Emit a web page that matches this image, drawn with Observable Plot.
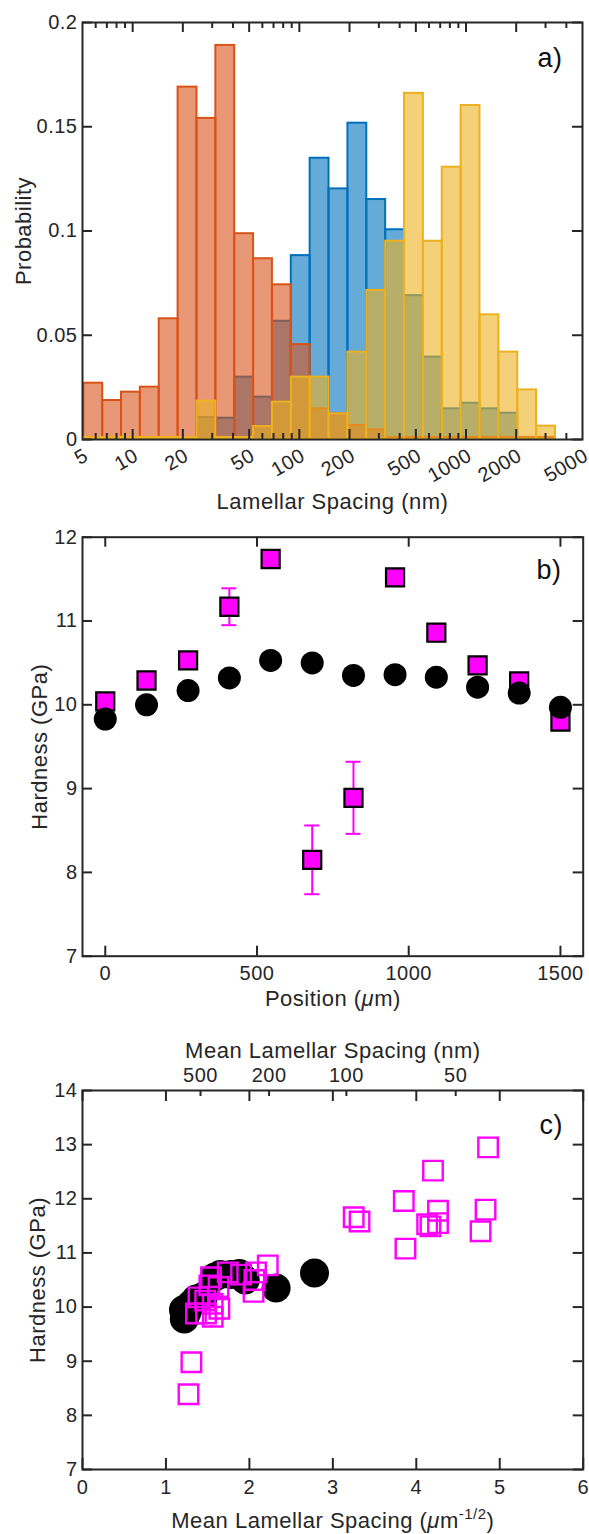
<!DOCTYPE html>
<html><head><meta charset="utf-8">
<script src="https://cdn.jsdelivr.net/npm/d3@7"></script>
<script src="https://cdn.jsdelivr.net/npm/@observablehq/plot@0.6"></script>
<style>
body{margin:0;background:#fff;}
#chart{width:589px;}
#chart svg{display:block;}
</style></head><body><div id="chart"></div>
<script>
// ---------- Panel a: histogram of lamellar spacing ----------
const binEdges = [5.09, 6.61, 8.57, 11.12, 14.43, 18.73, 24.31, 31.55, 40.94, 53.13, 68.96, 89.49, 116.1, 150.7, 195.6, 253.9, 329.5, 427.6, 554.9, 720.2, 934.7, 1213, 1574, 2043, 2652, 3441];
const probOrange = [0.027, 0.0187, 0.0227, 0.0251, 0.0579, 0.169, 0.154, 0.189, 0.0987, 0.0867, 0.0742, 0.0455, 0.0147, 0.0123, 0.0067, 0.0046, 0.001, 0.001, 0.001, 0.001, 0.001, 0.001, 0.001, 0.001, 0.001];
const probBlue   = [0, 0, 0, 0, 0, 0, 0.0105, 0.0102, 0.0299, 0.0203, 0.0567, 0.0882, 0.1349, 0.1202, 0.1517, 0.1151, 0.1006, 0.069, 0.0395, 0.0147, 0.0174, 0.0147, 0.0126, 0, 0];
const probYellow = [0.001, 0.001, 0.001, 0.001, 0.001, 0.001, 0.0184, 0.001, 0.001, 0.0062, 0.0179, 0.0299, 0.0299, 0.0123, 0.0419, 0.0715, 0.0951, 0.166, 0.0951, 0.1306, 0.1602, 0.0598, 0.0419, 0.0238, 0.0064];
const spacingLabels = [5, 10, 20, 50, 100, 200, 500, 1000, 2000, 5000];
const spacingMajor = [10, 20, 50, 100, 200, 500, 1000, 2000];
const spacingMinor = [6, 7, 8, 9, 30, 40, 60, 70, 80, 90, 300, 400, 600, 700, 800, 900, 3000, 4000];
const probTicks = [0, 0.05, 0.1, 0.15, 0.2];

// ---------- Panel b: hardness vs position ----------
const position = [0, 136, 273, 409, 545, 682, 818, 955, 1091, 1227, 1364, 1500];
const hardCircle = [9.83, 10.0, 10.17, 10.32, 10.53, 10.50, 10.35, 10.36, 10.33, 10.21, 10.14, 9.97];
const hardSquare = [10.04, 10.29, 10.53, 11.17, 11.74, 8.15, 8.89, 11.52, 10.86, 10.47, 10.28, 9.80];
const errSquare  = [0.06, 0.1, 0.1, 0.22, 0.08, 0.41, 0.43, 0.08, 0.1, 0.08, 0.06, 0.06];
const posTicks = [0, 500, 1000, 1500];
const hardTicksB = [7, 8, 9, 10, 11, 12];

// ---------- Panel c: hardness vs mean lamellar spacing^-1/2 ----------
const cCircleX = [1.22, 1.25, 1.21, 1.30, 1.36, 1.45, 1.58, 1.65, 1.78, 1.88, 1.95, 2.32, 2.78];
const cCircleH = [9.78, 9.90, 9.95, 10.05, 10.15, 10.2, 10.55, 10.6, 10.6, 10.62, 10.5, 10.35, 10.63];
const cSquareX = [4.86, 4.20, 3.85, 4.83, 4.26, 3.25, 3.32, 4.13, 4.26, 4.17, 4.77, 3.87, 2.22, 2.08, 2.06, 2.05, 1.74, 1.90, 1.54, 1.52, 1.63, 1.47, 1.56, 1.64, 1.48, 1.36, 1.56, 1.39, 1.305, 1.27];
const cSquareH = [12.95, 12.52, 11.96, 11.80, 11.78, 11.66, 11.58, 11.53, 11.55, 11.49, 11.40, 11.08, 10.77, 10.64, 10.50, 10.28, 10.64, 10.60, 10.55, 10.40, 10.37, 10.12, 10.06, 9.97, 9.88, 9.88, 9.82, 10.18, 8.98, 8.39];
const cXTicks = [0, 1, 2, 3, 4, 5, 6];
const cTopNm = [500, 200, 100, 50];
const hardTicksC = [7, 8, 9, 10, 11, 12, 13, 14];

// ---------- styling ----------
const W = 589;
const FONT = "'Liberation Sans', Arial, Helvetica, sans-serif";
const TICKFS = 20, LABELFS = 22, PANELFS = 27;
const INK = "#262626";
const BLUE = "#0072BD", ORANGE = "#D95319", YELLOW = "#EDB120", MAGENTA = "#FF00FF";
const style = {fontFamily: FONT, fontSize: TICKFS + "px", letterSpacing: "0.5px", color: INK, background: "#fff", overflow: "visible"};

function bins(vals) {
  return vals.map((p, i) => ({x1: binEdges[i], x2: binEdges[i + 1], p})).filter(d => d.p > 0);
}
function histRects(vals, color) {
  return Plot.rect(bins(vals), {x1: "x1", x2: "x2", y1: 0, y2: "p", fill: color, fillOpacity: 0.6, stroke: color, strokeWidth: 2});
}
function xTicks(vals, frameH, len, side) {
  const o = side === "bottom" ? {insetTop: frameH - len} : {insetBottom: frameH - len};
  return Plot.tickX(vals, {x: d => d, stroke: INK, strokeWidth: 2, ...o});
}
function yTicks(vals, frameW, len, side) {
  const o = side === "left" ? {insetRight: frameW - len} : {insetLeft: frameW - len};
  return Plot.tickY(vals, {y: d => d, stroke: INK, strokeWidth: 2, ...o});
}
const T = (extra) => ({fill: INK, textAnchor: "middle", lineAnchor: "middle", ...extra});

// ---------- Panel a ----------
const A = {h: 515, mt: 22, mb: 76, ml: 82, mr: 7};
const aFH = A.h - A.mt - A.mb, aFW = W - A.ml - A.mr;
const plotA = Plot.plot({
  width: W, height: A.h, marginTop: A.mt, marginBottom: A.mb, marginLeft: A.ml, marginRight: A.mr,
  style,
  x: {type: "log", domain: [5, 5000], axis: null},
  y: {domain: [0, 0.2], axis: null},
  marks: [
    histRects(probBlue, BLUE),
    histRects(probOrange, ORANGE),
    histRects(probYellow, YELLOW),
    xTicks(spacingMajor, aFH, 10, "bottom"),
    xTicks(spacingMinor, aFH, 6, "bottom"),
    xTicks(spacingMajor, aFH, 10, "top"),
    xTicks(spacingMinor, aFH, 6, "top"),
    yTicks(probTicks, aFW, 10, "left"),
    yTicks(probTicks, aFW, 10, "right"),
    Plot.frame({stroke: INK, strokeWidth: 2}),
    Plot.text(probTicks, T({y: d => d, text: d => String(d), frameAnchor: "left", textAnchor: "end", dx: -5, fontSize: TICKFS})),
    Plot.text(spacingLabels, T({x: d => d, text: d => String(d), frameAnchor: "bottom", textAnchor: "end", lineAnchor: "bottom", rotate: -30, dx: 7, dy: 20, fontSize: TICKFS})),
    Plot.text(["Lamellar Spacing (nm)"], T({text: d => d, frameAnchor: "bottom", dy: 62.7, fontSize: LABELFS})),
    Plot.text(["Probability"], T({text: d => d, frameAnchor: "left", rotate: -90, dx: -58.2, fontSize: LABELFS})),
    Plot.text(["a)"], T({text: d => d, frameAnchor: "top-left", textAnchor: "start", lineAnchor: "bottom", dx: 455, dy: 44, fontSize: PANELFS, fill: "#111"}))
  ]
});

// ---------- Panel b ----------
const B = {h: 515, mt: 21.7, mb: 74.3, ml: 82, mr: 6.3};
const bFH = B.h - B.mt - B.mb, bFW = W - B.ml - B.mr;
const dataB = position.map((p, i) => ({pos: p, hc: hardCircle[i], hs: hardSquare[i], e: errSquare[i]}));
const plotB = Plot.plot({
  width: W, height: B.h, marginTop: B.mt, marginBottom: B.mb, marginLeft: B.ml, marginRight: B.mr,
  style,
  x: {domain: [-75, 1575], axis: null},
  y: {domain: [7, 12], axis: null},
  marks: [
    xTicks(posTicks, bFH, 10, "bottom"),
    xTicks(posTicks, bFH, 10, "top"),
    yTicks(hardTicksB, bFW, 10, "left"),
    yTicks(hardTicksB, bFW, 10, "right"),
    Plot.ruleX(dataB, {x: "pos", y1: d => d.hs - d.e, y2: d => d.hs + d.e, stroke: MAGENTA, strokeWidth: 2}),
    Plot.ruleY(dataB, {y: d => d.hs + d.e, x1: "pos", x2: "pos", insetLeft: -7.5, insetRight: -7.5, stroke: MAGENTA, strokeWidth: 2}),
    Plot.ruleY(dataB, {y: d => d.hs - d.e, x1: "pos", x2: "pos", insetLeft: -7.5, insetRight: -7.5, stroke: MAGENTA, strokeWidth: 2}),
    Plot.dot(dataB, {x: "pos", y: "hs", symbol: "square", r: 10.2, fill: MAGENTA, stroke: "#000", strokeWidth: 2.2}),
    Plot.dot(dataB, {x: "pos", y: "hc", r: 11.5, fill: "#000", stroke: "none"}),
    Plot.frame({stroke: INK, strokeWidth: 2}),
    Plot.text(hardTicksB, T({y: d => d, text: d => String(d), frameAnchor: "left", textAnchor: "end", dx: -5, fontSize: TICKFS})),
    Plot.text(posTicks, T({x: d => d, text: d => String(d), frameAnchor: "bottom", dy: 17.6, fontSize: TICKFS})),
    Plot.text(["Position (μm)"], T({text: d => d, frameAnchor: "bottom", dy: 42.6, fontSize: LABELFS})),
    Plot.text(["Hardness (GPa)"], T({text: d => d, frameAnchor: "left", rotate: -90, dx: -42.4, fontSize: LABELFS})),
    Plot.text(["b)"], T({text: d => d, frameAnchor: "top-left", textAnchor: "start", lineAnchor: "bottom", dx: 454, dy: 41.3, fontSize: PANELFS, fill: "#111"}))
  ]
});

// ---------- Panel c ----------
const C = {h: 504, mt: 60, mb: 65, ml: 82, mr: 6.3};
const cFH = C.h - C.mt - C.mb, cFW = W - C.ml - C.mr;
const circlesC = cCircleX.map((x, i) => ({x, h: cCircleH[i]}));
const squaresC = cSquareX.map((x, i) => ({x, h: cSquareH[i]}));
const nmToX = nm => Math.sqrt(1000 / nm);
const plotC = Plot.plot({
  width: W, height: C.h, marginTop: C.mt, marginBottom: C.mb, marginLeft: C.ml, marginRight: C.mr,
  style,
  x: {domain: [0, 6], axis: null},
  y: {domain: [7, 14], axis: null},
  marks: [
    xTicks(cXTicks, cFH, 11, "bottom"),
    xTicks(cXTicks, cFH, 11, "top"),
    Plot.tickX(cTopNm, {x: nmToX, insetBottom: cFH - 6, stroke: INK, strokeWidth: 2}),
    yTicks(hardTicksC, cFW, 10, "left"),
    yTicks(hardTicksC, cFW, 10, "right"),
    Plot.dot(circlesC, {x: "x", y: "h", r: 14.5, fill: "#000", stroke: "none"}),
    Plot.dot(squaresC, {x: "x", y: "h", symbol: "square", r: 11, fill: "none", stroke: MAGENTA, strokeWidth: 2.4}),
    Plot.frame({stroke: INK, strokeWidth: 2}),
    Plot.text(hardTicksC, T({y: d => d, text: d => String(d), frameAnchor: "left", textAnchor: "end", dx: -5, fontSize: TICKFS})),
    Plot.text(cXTicks, T({x: d => d, text: d => String(d), frameAnchor: "bottom", dy: 17.7, fontSize: TICKFS})),
    Plot.text(cTopNm, T({x: nmToX, text: d => String(d), frameAnchor: "top", dy: -15, fontSize: TICKFS})),
    Plot.text(["Mean Lamellar Spacing (nm)"], T({text: d => d, frameAnchor: "top", dy: -40, fontSize: LABELFS})),
    Plot.text(["Mean Lamellar Spacing (μm-1/2)"], T({text: d => d, frameAnchor: "bottom", dy: 51, fontSize: LABELFS})),
    Plot.text(["Hardness (GPa)"], T({text: d => d, frameAnchor: "left", rotate: -90, dx: -44.5, fontSize: LABELFS})),
    Plot.text(["c)"], T({text: d => d, frameAnchor: "top-left", textAnchor: "start", lineAnchor: "bottom", dx: 457, dy: 43, fontSize: PANELFS, fill: "#111"}))
  ]
});

const chart = document.getElementById("chart");
chart.append(plotA, plotB, plotC);

// superscript and italic mu in the unit labels
for (const svg of [plotB, plotC]) {
  svg.querySelectorAll("text").forEach(t => {
    const s = t.textContent;
    if (s === "Mean Lamellar Spacing (μm-1/2)") {
      t.innerHTML = 'Mean Lamellar Spacing (<tspan font-style="italic">μ</tspan>m<tspan dy="-9" font-size="15">-1/2</tspan><tspan dy="9">)</tspan>';
    } else if (s === "Position (μm)") {
      t.innerHTML = 'Position (<tspan font-style="italic">μ</tspan>m)';
    }
  });
}
</script>
</body></html>
